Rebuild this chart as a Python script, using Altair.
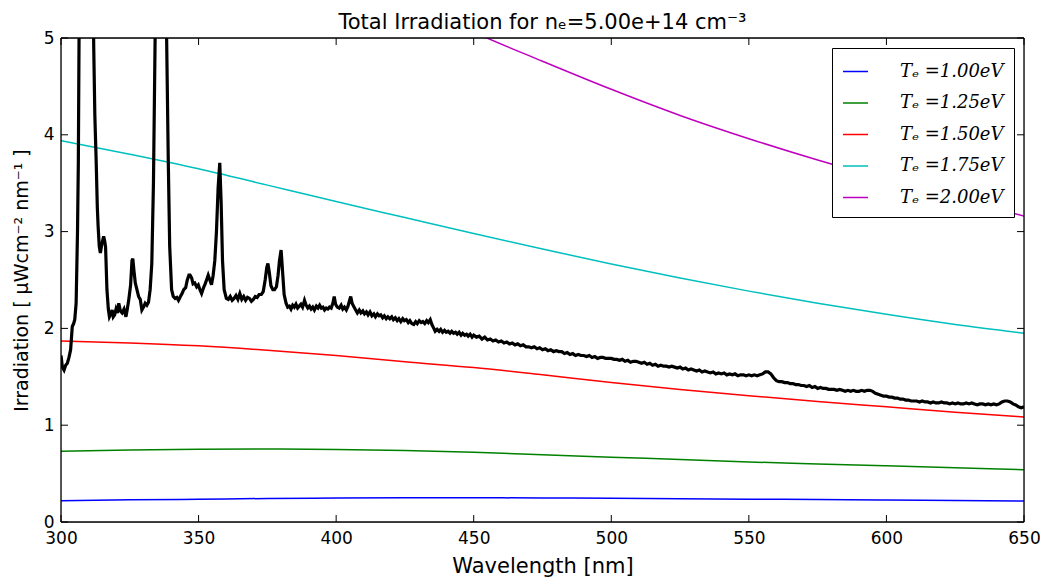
import altair as alt
import pandas as pd

# ---------------- data ----------------
wl_model = [300, 325, 350, 375, 400, 425, 450, 475, 500, 525, 550, 575, 600, 625, 650]
te_labels = ["Tₑ =1.00eV", "Tₑ =1.25eV", "Tₑ =1.50eV", "Tₑ =1.75eV", "Tₑ =2.00eV"]
te_colors = ["#0000ff", "#008000", "#ff0000", "#00bfbf", "#bf00bf"]

irr_te100 = [0.22, 0.23, 0.235, 0.243, 0.248, 0.25, 0.25, 0.248, 0.245, 0.24, 0.236, 0.232, 0.227, 0.222, 0.216]
irr_te125 = [0.73, 0.745, 0.752, 0.755, 0.75, 0.738, 0.72, 0.695, 0.67, 0.645, 0.62, 0.60, 0.58, 0.56, 0.54]
irr_te150 = [1.87, 1.85, 1.82, 1.775, 1.72, 1.655, 1.595, 1.52, 1.44, 1.37, 1.305, 1.245, 1.19, 1.135, 1.085]
irr_te175 = [3.94, 3.80, 3.65, 3.48, 3.31, 3.145, 2.98, 2.82, 2.665, 2.52, 2.385, 2.26, 2.145, 2.04, 1.95]
irr_te200 = [7.3, 6.9, 6.5, 6.1, 5.75, 5.40, 5.06, 4.76, 4.47, 4.20, 3.96, 3.74, 3.54, 3.35, 3.16]

spec_wl = [
    300.0, 300.5, 301.1, 301.7, 302.3, 302.9, 303.5, 304.1, 304.6, 305.0,
    305.5, 306.0, 306.3, 306.6, 307.2, 308.0, 309.0, 310.0, 311.0, 311.6,
    311.9, 312.3, 312.8, 313.2, 313.5, 313.9, 314.3, 314.9, 315.5, 315.9,
    316.2, 316.7, 317.2, 317.6, 318.1, 318.6, 319.0, 319.5, 320.0, 320.5,
    321.0, 321.6, 322.2, 322.9, 323.6, 324.1, 324.6, 325.3, 325.8, 326.1,
    326.5, 327.0, 327.6, 328.2, 328.8, 329.4, 330.0, 330.6, 331.2, 331.8,
    332.4, 333.0, 333.6, 334.2, 334.8, 335.5, 336.3, 337.0, 337.7, 338.4,
    339.0, 339.5, 340.2, 340.8, 341.5, 342.1, 342.7, 343.4, 344.0, 344.6,
    345.3, 345.9, 346.5, 346.9, 347.5, 348.0, 348.6, 349.3, 349.9, 350.5,
    351.1, 351.8, 352.4, 352.9, 353.5, 354.1, 354.7, 355.3, 355.9, 356.5,
    357.1, 357.7, 358.2, 358.7, 359.3, 360.1, 360.8, 361.5, 362.2, 362.9,
    363.6, 364.3, 365.0, 365.7, 366.4, 367.1, 367.8, 368.5, 369.2, 369.9,
    370.6, 371.3, 372.0, 372.8, 373.5, 374.2, 374.8, 375.2, 375.7, 376.3,
    377.0, 377.6, 378.3, 378.9, 379.4, 380.0, 380.5, 381.1, 381.8, 382.4,
    383.0, 383.6, 384.2, 384.8, 385.4, 386.0, 386.6, 387.2, 387.8, 388.5,
    389.1, 389.7, 390.3, 390.9, 391.5, 392.1, 392.8, 393.4, 394.0, 394.6,
    395.2, 395.8, 396.4, 397.0, 397.6, 398.2, 398.8, 399.3, 399.8, 400.4,
    401.1, 401.8, 402.4, 403.0, 403.7, 404.3, 404.8, 405.3, 405.8, 406.5,
    407.1, 407.7, 408.4, 409.0, 409.7, 410.3, 411.0, 411.6, 412.3, 413.0,
    413.7, 414.3, 415.0, 415.6, 416.2, 416.9, 417.5, 418.2, 418.8, 419.5,
    420.2, 420.8, 421.5, 422.2, 422.8, 423.5, 424.2, 424.8, 425.5, 426.2,
    426.8, 427.5, 428.2, 428.9, 429.5, 430.2, 430.9, 431.5, 432.2, 432.9,
    433.5, 434.2, 434.8, 435.5, 436.0, 436.7, 437.4, 438.0, 438.7, 439.4,
    440.0, 440.7, 441.4, 442.0, 442.7, 443.4, 444.0, 444.7, 445.4, 446.0,
    446.7, 447.4, 448.0, 448.7, 449.4,
    450, 451, 452, 453, 454, 455, 456, 457, 458, 459,
    460, 461, 462, 463, 464, 465, 466, 467, 468, 469,
    470, 471, 472, 473, 474, 475, 476, 477, 478, 479,
    480, 481, 482, 483, 484, 485, 486, 487, 488, 489,
    490, 491, 492, 493, 494, 495, 496, 497, 498, 499,
    500, 501, 502, 503, 504, 505, 506, 507, 508, 509,
    510, 511, 512, 513, 514, 515, 516, 517, 518, 519,
    520, 521, 522, 523, 524, 525, 526, 527, 528, 529,
    530, 531, 532, 533, 534, 535, 536, 537, 538, 539,
    540, 541, 542, 543, 544, 545, 546, 547, 548, 549,
    550, 551, 552, 553, 554, 555, 556, 557, 558, 559,
    560, 561, 562, 563, 564, 565, 566, 567, 568, 569,
    570, 571, 572, 573, 574, 575, 576, 577, 578, 579,
    580, 581, 582, 583, 584, 585, 586, 587, 588, 589,
    590, 591, 592, 593, 594, 595, 596, 597, 598, 599,
    600, 601, 602, 603, 604, 605, 606, 607, 608, 609,
    610, 611, 612, 613, 614, 615, 616, 617, 618, 619,
    620, 621, 622, 623, 624, 625, 626, 627, 628, 629,
    630, 631, 632, 633, 634, 635, 636, 637, 638, 639,
    640, 641, 642, 643, 644, 645, 646, 647, 648, 649,
    650,
]
spec_irr = [
    1.72, 1.60, 1.57, 1.62, 1.64, 1.70, 1.78, 2.02, 2.05, 2.09,
    2.26, 3.00, 3.71, 5.2, 7.5, 11.0, 14.0, 12.0, 8.0, 5.6,
    4.9, 4.2, 3.71, 3.25, 3.05, 2.85, 2.78, 2.88, 2.95, 2.90,
    2.84, 2.40, 2.20, 2.12, 2.15, 2.19, 2.12, 2.14, 2.20, 2.16,
    2.26, 2.18, 2.16, 2.20, 2.12, 2.20, 2.29, 2.45, 2.70, 2.72,
    2.60, 2.47, 2.40, 2.33, 2.30, 2.19, 2.22, 2.26, 2.24, 2.27,
    2.40, 2.67, 3.5, 4.98, 7.0, 10.0, 12.0, 9.5, 6.5, 4.98,
    3.71, 2.85, 2.40, 2.33, 2.31, 2.32, 2.29, 2.33, 2.36, 2.40,
    2.42, 2.50, 2.55, 2.55, 2.52, 2.46, 2.47, 2.43, 2.45, 2.40,
    2.36, 2.42, 2.46, 2.50, 2.55, 2.50, 2.45, 2.55, 2.70, 3.0,
    3.45, 3.71, 3.30, 2.70, 2.40, 2.31, 2.30, 2.33, 2.29, 2.31,
    2.34, 2.30, 2.36, 2.30, 2.33, 2.29, 2.32, 2.31, 2.28, 2.30,
    2.33, 2.32, 2.35, 2.35, 2.38, 2.50, 2.63, 2.67, 2.58, 2.44,
    2.40, 2.40, 2.43, 2.55, 2.70, 2.81, 2.60, 2.35, 2.26, 2.22,
    2.23, 2.20, 2.24, 2.22, 2.25, 2.21, 2.23, 2.25, 2.22, 2.29,
    2.24, 2.21, 2.23, 2.20, 2.22, 2.19, 2.23, 2.21, 2.24, 2.21,
    2.22, 2.19, 2.21, 2.20, 2.22, 2.21, 2.26, 2.33, 2.25, 2.22,
    2.21, 2.24, 2.20, 2.22, 2.19, 2.23, 2.28, 2.33, 2.26, 2.22,
    2.19, 2.16, 2.19, 2.16, 2.18, 2.15, 2.17, 2.14, 2.17, 2.13,
    2.15, 2.12, 2.15, 2.13, 2.14, 2.11, 2.13, 2.10, 2.12, 2.10,
    2.12, 2.09, 2.11, 2.08, 2.10, 2.07, 2.10, 2.08, 2.09, 2.06,
    2.08, 2.05, 2.04, 2.07, 2.05, 2.08, 2.06, 2.07, 2.05, 2.08,
    2.06, 2.09, 2.04, 2.00, 1.97, 1.99, 1.97, 1.99, 1.96, 1.98,
    1.96, 1.97, 1.95, 1.97, 1.95, 1.96, 1.94, 1.96, 1.93, 1.95,
    1.93, 1.94, 1.92, 1.94, 1.91,
    1.93, 1.91, 1.92, 1.89, 1.91, 1.88, 1.89, 1.87, 1.88, 1.86,
    1.87, 1.85, 1.86, 1.84, 1.85, 1.83, 1.84, 1.82, 1.83, 1.81,
    1.81, 1.80, 1.81, 1.79, 1.80, 1.78, 1.79, 1.77, 1.78, 1.76,
    1.77, 1.76, 1.76, 1.74, 1.75, 1.73, 1.74, 1.72, 1.73, 1.72,
    1.72, 1.71, 1.72, 1.70, 1.71, 1.69, 1.70, 1.70, 1.69, 1.69,
    1.69, 1.68, 1.68, 1.67, 1.68, 1.66, 1.67, 1.65, 1.66, 1.66,
    1.65, 1.64, 1.65, 1.63, 1.64, 1.62, 1.63, 1.61, 1.62, 1.61,
    1.61, 1.60, 1.61, 1.60, 1.59, 1.60, 1.58, 1.59, 1.57, 1.58,
    1.57, 1.56, 1.57, 1.55, 1.56, 1.55, 1.54, 1.55, 1.53, 1.54,
    1.53, 1.54, 1.52, 1.53, 1.52, 1.53, 1.51, 1.52, 1.52, 1.51,
    1.52, 1.51, 1.52, 1.51, 1.52, 1.53, 1.55, 1.55, 1.53, 1.49,
    1.46, 1.45, 1.45, 1.44, 1.44, 1.43, 1.43, 1.42, 1.42, 1.41,
    1.41, 1.40, 1.41, 1.39, 1.40, 1.38, 1.39, 1.38, 1.38, 1.37,
    1.37, 1.37, 1.36, 1.37, 1.36, 1.35, 1.36, 1.35, 1.36, 1.35,
    1.35, 1.36, 1.35, 1.36, 1.36, 1.35, 1.33, 1.32, 1.31, 1.30,
    1.30, 1.29, 1.29, 1.28, 1.28, 1.27, 1.27, 1.26, 1.26, 1.25,
    1.25, 1.25, 1.24, 1.25, 1.24, 1.24, 1.23, 1.24, 1.23, 1.23,
    1.24, 1.23, 1.23, 1.22, 1.23, 1.22, 1.23, 1.22, 1.22, 1.23,
    1.22, 1.23, 1.22, 1.21, 1.22, 1.22, 1.21, 1.22, 1.21, 1.22,
    1.21, 1.22, 1.24, 1.25, 1.25, 1.24, 1.22, 1.21, 1.19, 1.18,
    1.19,
]

x_ticks = [300, 350, 400, 450, 500, 550, 600, 650]
y_ticks = [0, 1, 2, 3, 4, 5]

# ---------------- chart ----------------
W, H = 963, 484
TICK = 7
SANS = "DejaVu Sans"

rows = []
for lab, vals in zip(te_labels, [irr_te100, irr_te125, irr_te150, irr_te175, irr_te200]):
    for w, v in zip(wl_model, vals):
        rows.append({"wl": w, "irr": v, "Te": lab})
model_df = pd.DataFrame(rows)
spec_df = pd.DataFrame({"wl": spec_wl, "irr": spec_irr})
xt_df = pd.DataFrame({"wl": x_ticks})
yt_df = pd.DataFrame({"irr": y_ticks})

xs = alt.Scale(domain=[300, 650], nice=False, zero=False)
ys = alt.Scale(domain=[0, 5], nice=False, zero=False)

x_axis = alt.Axis(values=x_ticks, ticks=False, domain=False, grid=False, labelFlush=False,
                  labelPadding=8, format="d", labelFontSize=17, titleFontSize=21,
                  titlePadding=9, titleFontWeight="normal", labelFont=SANS, titleFont=SANS,
                  labelColor="black", titleColor="black")
y_axis = alt.Axis(values=y_ticks, ticks=False, domain=False, grid=False, labelFlush=False,
                  labelPadding=7, format="d", labelFontSize=17, titleFontSize=19,
                  titlePadding=12, titleFontWeight="normal", labelFont=SANS, titleFont=SANS,
                  labelColor="black", titleColor="black")
X_TITLE = "Wavelength [nm]"
Y_TITLE = "Irradiation   [ μWcm⁻² nm⁻¹ ]"

def X():
    return alt.X("wl:Q", scale=xs, axis=x_axis, title=X_TITLE)

def Y():
    return alt.Y("irr:Q", scale=ys, axis=y_axis, title=Y_TITLE)

models = alt.Chart(model_df).mark_line(strokeWidth=1.5, clip=True, interpolate="monotone").encode(
    x=X(), y=Y(),
    color=alt.Color("Te:N", sort=te_labels, title=None,
                    scale=alt.Scale(domain=te_labels, range=te_colors),
                    legend=alt.Legend(orient="top-right", offset=10, fillColor="white",
                                      strokeColor="black", padding=10, cornerRadius=0,
                                      symbolType="stroke", symbolSize=625, symbolStrokeWidth=1.5,
                                      labelFont="DejaVu Serif", labelFontStyle="italic",
                                      labelFontSize=18, labelOffset=31, rowPadding=8.5,
                                      labelColor="black")),
)

spectrum = alt.Chart(spec_df).mark_line(color="black", strokeWidth=3.2, clip=True).encode(
    x=X(), y=Y(),
)

tick_style = dict(color="black", strokeWidth=1)
xb = alt.Chart(xt_df).mark_rule(**tick_style).encode(
    x=X(), y=alt.value(H), y2=alt.value(H - TICK))
xtp = alt.Chart(xt_df).mark_rule(**tick_style).encode(
    x=X(), y=alt.value(0), y2=alt.value(TICK))
yl = alt.Chart(yt_df).mark_rule(**tick_style).encode(
    y=Y(), x=alt.value(0), x2=alt.value(TICK))
yr = alt.Chart(yt_df).mark_rule(**tick_style).encode(
    y=Y(), x=alt.value(W), x2=alt.value(W - TICK))

# plot frame
frame_df = pd.DataFrame({"side": ["frame"]})
frame_style = dict(color="black", strokeWidth=1.3)
f_top = alt.Chart(frame_df).mark_rule(**frame_style).encode(
    x=alt.value(0), x2=alt.value(W), y=alt.value(0))
f_bot = alt.Chart(frame_df).mark_rule(**frame_style).encode(
    x=alt.value(0), x2=alt.value(W), y=alt.value(H))
f_left = alt.Chart(frame_df).mark_rule(**frame_style).encode(
    x=alt.value(0), y=alt.value(0), y2=alt.value(H))
f_right = alt.Chart(frame_df).mark_rule(**frame_style).encode(
    x=alt.value(W), y=alt.value(0), y2=alt.value(H))

chart = alt.layer(models, spectrum, xb, xtp, yl, yr, f_top, f_bot, f_left, f_right).properties(
    width=W, height=H,
    title=alt.TitleParams("Total Irradiation for nₑ=5.00e+14 cm⁻³", fontSize=21,
                          font=SANS, fontWeight="normal", color="black", offset=-4),
    autosize=alt.AutoSizeParams(type="none"),
    padding={"left": 53, "top": 30, "right": 16, "bottom": 57},
).configure_view(
    stroke=None
).configure(background="white")

chart.save("out.html", embed_options={"renderer": "svg", "actions": False})
